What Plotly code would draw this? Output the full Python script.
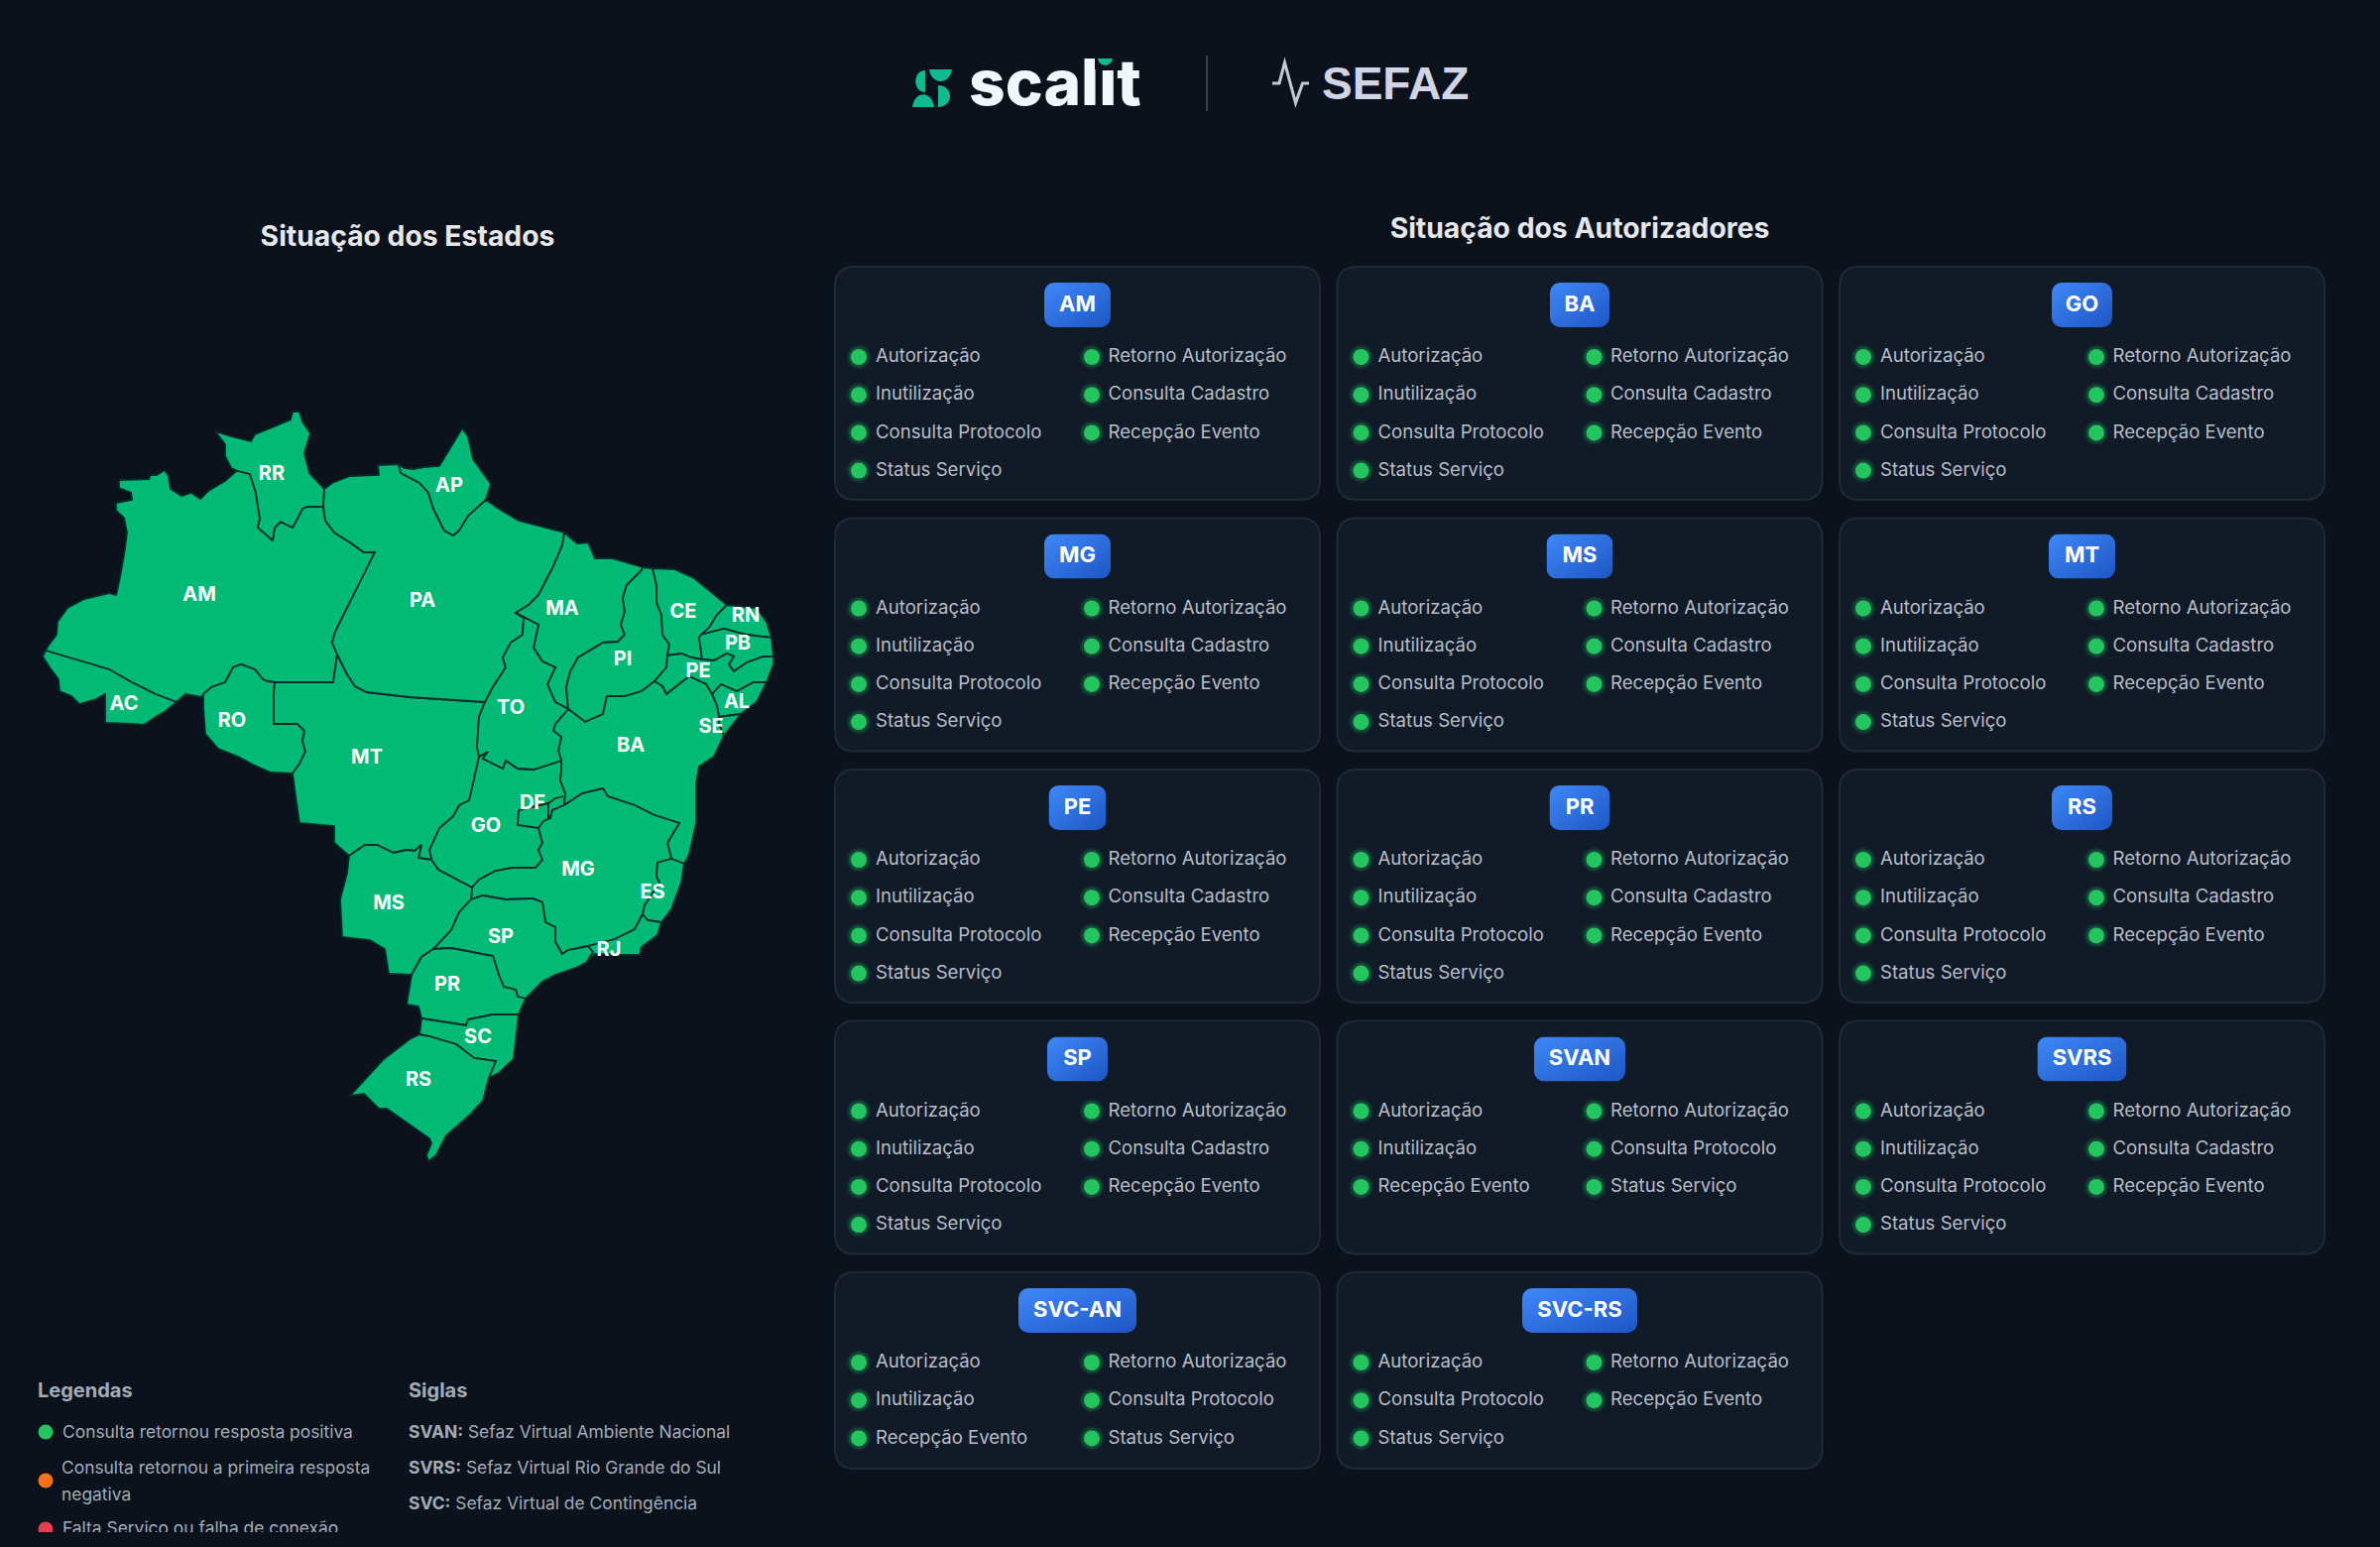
import plotly.graph_objects as go

BG = "#0b121c"
GREEN_MAP = "#00ba76"
BORDER = "#0a2b2a"
OK_DOT = "#22c55e"

# ---- status data ----
ALL_SERVICES = ["Autorização", "Retorno Autorização", "Inutilização", "Consulta Cadastro",
                "Consulta Protocolo", "Recepção Evento", "Status Serviço"]
SVC_SERVICES = ["Autorização", "Retorno Autorização", "Inutilização", "Consulta Protocolo",
                "Recepção Evento", "Status Serviço"]
SVCRS_SERVICES = ["Autorização", "Retorno Autorização", "Consulta Protocolo",
                  "Recepção Evento", "Status Serviço"]

authorizers = ["AM", "BA", "GO", "MG", "MS", "MT", "PE", "PR", "RS", "SP", "SVAN", "SVRS", "SVC-AN", "SVC-RS"]
authorizer_services = [ALL_SERVICES] * 10 + [SVC_SERVICES, ALL_SERVICES, SVC_SERVICES, SVCRS_SERVICES]
badge_widths = [67, 60, 61, 67, 67, 67, 58, 61, 61, 61, 92, 90, 119, 116]

legend_items = ["Consulta retornou resposta positiva", "Consulta retornou a primeira resposta", "negativa",
                "Falta Serviço ou falha de conexão"]
legend_colors = ["#22c55e", "#f97316", "#e63e50"]
siglas = ["<b>SVAN:</b> Sefaz Virtual Ambiente Nacional", "<b>SVRS:</b> Sefaz Virtual Rio Grande do Sul",
          "<b>SVC:</b> Sefaz Virtual de Contingência"]

# ---- map outlines, one list per stretch of border ----
ac_am = [(46, 656), (83, 667), (110, 675), (133, 688), (157, 700), (178, 708)]
ac_coast = [(178, 708), (167, 717), (157, 723), (145, 731), (133, 730), (106, 729), (106, 700), (97, 705), (80, 710),
            (72, 702), (60, 697), (59, 685), (50, 673), (43, 662), (46, 656)]
am_coast = [(46, 656), (48, 652), (57, 640), (58, 627), (68, 613), (85, 604), (110, 598), (117, 600), (120, 587),
            (125, 560), (128, 537), (125, 522), (117, 515), (117, 507), (133, 504), (132, 497), (120, 492), (120, 484),
            (150, 483), (152, 479), (158, 479), (166, 474), (170, 480), (172, 493), (183, 500), (193, 497), (202, 503),
            (210, 495), (227, 485), (237, 476), (240, 475)]
rr_coast = [(240, 475), (233, 472), (227, 460), (227, 448), (217, 435), (233, 440), (253, 445), (257, 438), (277, 430),
            (293, 423), (295, 415), (302, 415), (305, 425), (313, 437), (307, 457), (312, 477), (327, 493)]
am_rr = [(240, 475), (252, 478), (258, 497), (262, 523), (260, 532), (275, 545), (277, 532), (283, 526), (295, 532),
         (300, 523), (305, 513), (310, 511), (326, 511)]
rr_pa = [(326, 511), (327, 493)]
am_pa = [(326, 511), (328, 525), (337, 537), (353, 547), (367, 557), (378, 557), (367, 580), (350, 613), (338, 637),
         (335, 648), (340, 660)]
am_mt = [(340, 660), (336, 688), (277, 688)]
am_ro = [(277, 688), (270, 687), (265, 685), (257, 675), (243, 670), (235, 673), (227, 688), (213, 693), (205, 700)]
am_south = [(205, 700), (203, 703), (187, 700), (178, 708)]
ro_coast = [(205, 700), (205, 713), (207, 740), (220, 755), (240, 763), (257, 772), (273, 779), (295, 780)]
ro_mt = [(277, 688), (276, 700), (276, 730), (300, 730), (307, 737), (305, 747), (308, 758), (302, 770), (295, 780)]
mt_coast = [(295, 780), (298, 803), (302, 830), (337, 833), (337, 850), (352, 863)]
mt_ms = [(352, 863), (368, 852), (380, 852), (397, 860), (410, 857), (418, 858), (425, 852), (422, 865), (435, 867)]
mt_go = [(435, 867), (433, 857), (443, 835), (457, 823), (463, 812), (473, 807), (483, 763)]
mt_to = [(483, 763), (481, 753), (483, 723), (489, 708)]
mt_pa = [(340, 660), (350, 680), (358, 692), (370, 698), (413, 703), (489, 708)]
pa_to = [(489, 708), (497, 693), (510, 673), (507, 663), (515, 648), (527, 640), (528, 623), (520, 618)]
pa_ma = [(520, 618), (533, 610), (543, 600), (557, 573), (567, 550), (569, 537)]
pa_coast_w = [(327, 493), (335, 487), (353, 480), (382, 479), (381, 469), (402, 468)]
ap_coast = [(402, 468), (407, 472), (417, 473), (427, 471), (443, 470), (452, 455), (466, 432), (472, 440), (477, 463),
            (495, 488), (490, 504)]
ap_pa = [(402, 468), (404, 477), (423, 487), (432, 497), (437, 513), (448, 535), (457, 540), (463, 535), (472, 520),
         (490, 504)]
pa_coast_e = [(490, 504), (503, 513), (523, 525), (543, 530), (569, 537)]
ma_coast = [(569, 537), (582, 548), (593, 547), (600, 563), (617, 563), (633, 568), (648, 572)]
pi_coast = [(648, 572), (658, 573)]
ce_coast = [(658, 573), (680, 574), (700, 583), (733, 610)]
rn_coast = [(733, 610), (763, 613), (773, 627), (778, 643)]
ce_rn = [(733, 610), (723, 620), (715, 633), (707, 640)]
rn_pb = [(707, 640), (730, 634), (753, 640), (778, 643)]
pb_coast = [(778, 643), (780, 662)]
pb_pe = [(780, 662), (770, 662), (753, 668), (740, 677), (735, 670), (740, 662), (733, 659), (720, 666), (708, 665)]
ce_pb = [(707, 640), (705, 643), (708, 665)]
ce_pi = [(658, 573), (662, 590), (662, 607), (667, 620), (668, 640), (675, 650), (673, 661)]
ce_pe = [(673, 661), (687, 659), (697, 663), (708, 665)]
pi_ma = [(648, 572), (647, 575), (632, 590), (628, 603), (630, 617), (626, 630), (630, 640), (623, 647), (608, 648),
         (583, 663), (575, 677), (571, 693), (573, 715)]
ma_to = [(520, 618), (543, 630), (538, 653), (547, 667), (560, 673), (552, 690), (560, 708), (573, 715)]
pi_ba = [(573, 715), (590, 728), (608, 720), (612, 702), (630, 702), (647, 697), (660, 687)]
pi_pe = [(660, 687), (672, 673), (673, 661)]
pe_ba = [(660, 687), (668, 692), (672, 700), (687, 688), (695, 682), (712, 690), (718, 700)]
pe_al = [(718, 700), (727, 690), (743, 697), (760, 688), (773, 688)]
pe_coast = [(780, 662), (780, 670), (773, 688)]
al_coast = [(773, 688), (763, 708), (747, 720)]
al_se = [(718, 700), (723, 712), (725, 723), (747, 720)]
se_ba = [(725, 723), (725, 730), (730, 742)]
se_coast = [(747, 720), (737, 733), (730, 742)]
ba_coast = [(730, 742), (720, 763), (705, 773), (702, 790), (702, 830), (695, 862), (690, 871)]
ba_to = [(573, 715), (560, 730), (558, 737), (566, 743), (563, 757), (566, 767)]
to_go = [(483, 763), (492, 758), (487, 765), (507, 775), (510, 767), (522, 775), (538, 776), (566, 767)]
go_ba = [(566, 767), (566, 777), (565, 787), (570, 800), (569, 812)]
ba_mg = [(569, 812), (587, 800), (608, 795), (613, 803), (640, 812), (660, 822), (685, 830), (673, 850), (677, 866)]
ba_es = [(677, 866), (690, 871)]
es_mg = [(677, 866), (663, 870), (662, 883), (665, 890), (650, 913), (648, 922)]
es_rj = [(648, 922), (653, 928), (667, 930)]
es_coast = [(690, 871), (687, 890), (677, 917), (667, 930)]
rj_coast = [(667, 930), (663, 943), (647, 955), (645, 963), (623, 963), (600, 962), (592, 970)]
rj_mg = [(648, 922), (640, 937), (620, 947), (593, 954)]
rj_sp = [(593, 954), (598, 960), (592, 970)]
sp_mg = [(475, 907), (487, 903), (510, 907), (537, 906), (547, 910), (550, 930), (560, 935), (560, 950), (567, 962),
         (573, 958), (593, 954)]
go_mg = [(569, 812), (557, 817), (555, 825), (548, 828), (543, 835), (547, 850), (543, 857), (547, 867), (540, 875),
         (517, 875), (500, 878), (483, 887), (476, 895)]
go_ms = [(435, 867), (442, 877), (476, 895)]
mg_ms = [(476, 895), (475, 907)]
ms_sp = [(475, 907), (463, 920), (455, 938), (437, 957)]
ms_pr = [(437, 957), (425, 965), (415, 983)]
ms_coast = [(352, 863), (350, 880), (343, 907), (345, 945), (373, 948), (388, 957), (392, 982), (415, 983)]
pr_coast_w = [(415, 983), (410, 1013), (422, 1015), (425, 1027)]
pr_sp = [(437, 957), (455, 956), (497, 964), (503, 983), (508, 995), (520, 998), (522, 1005), (530, 1007)]
sp_coast = [(592, 970), (583, 975), (560, 983), (547, 990), (530, 1007)]
pr_coast_e = [(530, 1007), (523, 1023)]
pr_sc = [(425, 1027), (470, 1034), (472, 1028), (497, 1023), (523, 1023)]
sc_coast = [(523, 1023), (520, 1050), (518, 1068), (503, 1082), (493, 1087)]
sc_west = [(425, 1027), (423, 1043)]
sc_rs = [(423, 1043), (433, 1045), (460, 1053), (478, 1067), (500, 1070), (493, 1087)]
rs_coast = [(493, 1087), (487, 1110), (473, 1125), (450, 1145), (440, 1165), (432, 1171), (430, 1165), (435, 1153),
            (433, 1148), (390, 1118), (382, 1118), (367, 1103), (353, 1105), (387, 1068), (413, 1048), (423, 1043)]
df_outline = [(523, 817), (553, 810), (553, 825), (548, 832), (543, 835), (522, 832), (523, 817)]
df_stub = [(553, 810), (560, 805), (568, 803)]

# state -> stretches in walking order, ~ means walked backwards
state_paths = {
    "AC": [ac_am, ac_coast[:-1]],
    "AM": [am_coast, am_rr, am_pa, am_mt, am_ro, am_south, "~ac_am"],
    "RR": [rr_coast, "~rr_pa", "~am_rr"],
    "RO": [ro_coast, "~ro_mt", am_ro],
    "MT": [mt_pa, "~mt_to", "~mt_go", "~mt_ms", "~mt_coast", "~ro_mt", "~am_mt"],
    "AP": [ap_coast, "~ap_pa"],
    "PA": [pa_coast_w, ap_pa, pa_coast_e, "~pa_ma", "~pa_to", "~mt_pa", "~am_pa", rr_pa],
    "MA": [ma_coast, pi_ma, "~ma_to", pa_ma],
    "PI": [pi_coast, ce_pi, "~pi_pe", "~pi_ba", "~pi_ma"],
    "CE": [ce_coast, ce_rn, ce_pb, "~ce_pe", "~ce_pi"],
    "RN": [rn_coast, "~rn_pb", "~ce_rn"],
    "PB": [rn_pb, pb_coast, pb_pe, "~ce_pb"],
    "PE": [ce_pe, "~pb_pe", pe_coast, "~pe_al", "~pe_ba", pi_pe],
    "AL": [pe_al, al_coast, "~al_se"],
    "SE": [al_se, se_coast, "~se_ba"],
    "BA": [pi_ba, pe_ba, al_se[:3], se_ba, ba_coast, "~ba_es", "~ba_mg", "~go_ba", "~ba_to"],
    "TO": [pa_to, ma_to, ba_to, "~to_go", mt_to],
    "GO": [to_go, go_ba, go_mg, "~go_ms", mt_go],
    "DF": [df_outline],
    "MG": [ba_mg, es_mg, rj_mg, "~sp_mg", "~mg_ms", "~go_mg"],
    "ES": [ba_es, es_coast, "~es_rj", "~es_mg"],
    "RJ": [es_rj, rj_coast, "~rj_sp", "~rj_mg"],
    "SP": [sp_mg, rj_sp, sp_coast, "~pr_sp", "~ms_sp"],
    "MS": [mt_ms, go_ms, mg_ms, ms_sp, ms_pr, "~ms_coast"],
    "PR": [pr_sp, pr_coast_e, "~pr_sc", "~pr_coast_w", "~ms_pr"],
    "SC": [pr_sc, sc_coast, "~sc_rs", "~sc_west"],
    "RS": [sc_rs, rs_coast],
}

state_names = ["AM", "RR", "AC", "RO", "MT", "PA", "MA", "PI", "CE", "RN", "PB", "PE", "AL", "SE", "BA", "TO", "DF",
               "GO", "MG", "ES", "AP", "MS", "SP", "PR", "RJ", "SC", "RS"]
label_x = [201, 274, 125, 234, 370, 426, 567, 628, 689, 752, 744, 704, 743, 717, 636, 515, 537,
           490, 583, 658, 453, 392, 505, 451, 614, 482, 422]
label_y = [601, 479, 711, 728, 765, 607, 615, 666, 618, 622, 650, 678, 709, 734, 753, 715, 811,
           834, 878, 901, 491, 912, 946, 994, 959, 1047, 1090]


def walk(parts):
    pts = []
    for p in parts:
        seg = globals()[p[1:]][::-1] if isinstance(p, str) else p
        pts.extend(seg)
    return pts


def rrect(x0, y0, x1, y1, r):
    return (f"M{x0 + r},{y0} L{x1 - r},{y0} Q{x1},{y0} {x1},{y0 + r} L{x1},{y1 - r} Q{x1},{y1} {x1 - r},{y1} "
            f"L{x0 + r},{y1} Q{x0},{y1} {x0},{y1 - r} L{x0},{y0 + r} Q{x0},{y0} {x0 + r},{y0} Z")


fig = go.Figure()
shapes = []
images = []

# map
for name in ["GO", "DF"] + [s for s in state_names if s not in ("GO", "DF")]:
    pts = walk(state_paths[name])
    fig.add_trace(go.Scatter(x=[p[0] for p in pts] + [pts[0][0]], y=[p[1] for p in pts] + [pts[0][1]],
                             mode="lines", fill="toself", fillcolor=GREEN_MAP,
                             line=dict(color=BORDER, width=1.8), hoverinfo="skip"))
fig.add_trace(go.Scatter(x=[p[0] for p in df_stub], y=[p[1] for p in df_stub], mode="lines",
                         line=dict(color=BORDER, width=1.8), hoverinfo="skip"))
fig.add_trace(go.Scatter(x=label_x, y=label_y, mode="text", text=state_names, textposition="middle center",
                         textfont=dict(family="Inter", size=20, color="white", weight=700), hoverinfo="skip"))

# cards
card_w, card_pitch_x, card_pitch_y = 489, 506.5, 253.5
dot_x, dot_y, line_h = [], [], 38.2
txt_x, txt_y, txt = [], [], []
badge_x, badge_y = [], []
for i, (name, services) in enumerate(zip(authorizers, authorizer_services)):
    left = 842 + (i % 3) * card_pitch_x
    top = 269 + (i // 3) * card_pitch_y
    h = 198 if i >= 12 else 235
    shapes.append(dict(type="path", path=rrect(left, top, left + card_w, top + h, 20), fillcolor="#111a27",
                       line=dict(color="#1f2937", width=2), layer="below"))
    bw = badge_widths[i]
    cx = left + card_w / 2
    badge_x.append(cx)
    badge_y.append(top + 39)
    svg = (f"<svg xmlns='http://www.w3.org/2000/svg' width='{bw}' height='45'><defs><linearGradient id='g' x1='0' "
           f"y1='0' x2='1' y2='1'><stop offset='0' stop-color='%233f88f8'/><stop offset='1' stop-color='%231d56c4'/>"
           f"</linearGradient></defs><rect width='{bw}' height='45' rx='10' fill='url(%23g)'/></svg>")
    images.append(dict(source="data:image/svg+xml;utf8," + svg, xref="x", yref="y", x=cx - bw / 2, y=top + 16,
                       sizex=bw, sizey=45, xanchor="left", yanchor="top", sizing="stretch", layer="below"))
    for j, service in enumerate(services):
        col, row = j % 2, j // 2
        dot_x.append(left + (24 if col == 0 else 259))
        dot_y.append(top + 91 + row * line_h)
        txt_x.append(left + (41 if col == 0 else 275.5))
        txt_y.append(top + 91.5 + row * line_h)
        txt.append(service)

for size, op in [(25, 0.1), (21, 0.2), (16, 1)]:
    fig.add_trace(go.Scatter(x=dot_x, y=dot_y, mode="markers", hoverinfo="skip",
                             marker=dict(size=size, color=OK_DOT, opacity=op, line=dict(width=0))))
fig.add_trace(go.Scatter(x=txt_x, y=txt_y, mode="text", text=txt, textposition="middle right",
                         textfont=dict(family="Inter", size=18.6, color="#b7bec8"), hoverinfo="skip"))
fig.add_trace(go.Scatter(x=badge_x, y=badge_y, mode="text", text=authorizers, textposition="middle center",
                         textfont=dict(family="Inter", size=22, color="white", weight=700), hoverinfo="skip"))

# titles
fig.add_trace(go.Scatter(x=[411, 1593], y=[241, 233], mode="text",
                         text=["Situação dos Estados", "Situação dos Autorizadores"], textposition="middle center",
                         textfont=dict(family="Inter", size=28.3, color="#e5e7eb", weight=700), hoverinfo="skip"))

# logo
fig.add_trace(go.Scatter(x=[977], y=[90], mode="text", text=["scalit"], textposition="middle right",
                         textfont=dict(family="Inter", size=64, color="#f0f8fb", weight=800), hoverinfo="skip"))
fig.add_trace(go.Scatter(x=[1333], y=[88], mode="text", text=["SEFAZ"], textposition="middle right",
                         textfont=dict(family="Liberation Sans", size=46, color="#d0d4e4", weight=700),
                         hoverinfo="skip"))
logo_green = "#10b98f"
# the i of the wordmark has a green half disc instead of a dot
shapes.append(dict(type="rect", x0=1104, x1=1124, y0=50, y1=70, fillcolor=BG, line=dict(width=0), layer="above"))
for p in ["M933,71 C920,71 920,93 933,93 Z", "M937,70 L960,70 C958,86 939,86 937,70 Z",
          "M946,86 C962,86 962,108 946,108 Z", "M920,108 C922,91 940,91 942,108 Z",
          "M1107,59 L1122,59 C1121,68 1108,68 1107,59 Z"]:
    shapes.append(dict(type="path", path=p, fillcolor=logo_green, line=dict(width=0), layer="above"))
shapes.append(dict(type="line", x0=1217, x1=1217, y0=56, y1=112, line=dict(color="#3a4049", width=2)))
shapes.append(dict(type="path", path="M1283,84 L1290,84 L1295.5,63 L1306.5,104 L1313.5,84 L1320,84",
                   line=dict(color="#c5c9d4", width=3), layer="above"))

# legend
fig.add_trace(go.Scatter(x=[38, 412], y=[1404, 1404], mode="text", text=["Legendas", "Siglas"],
                         textposition="middle right",
                         textfont=dict(family="Inter", size=20, color="#a4acb7", weight=700), hoverinfo="skip"))
fig.add_trace(go.Scatter(x=[46, 46, 46], y=[1444, 1493, 1542], mode="markers", hoverinfo="skip",
                         marker=dict(size=15, color=legend_colors, line=dict(width=0))))
fig.add_trace(go.Scatter(x=[63, 62, 62, 63], y=[1446, 1482, 1509, 1543], mode="text", text=legend_items,
                         textposition="middle right", textfont=dict(family="Inter", size=17.4, color="#a4acb7"),
                         hoverinfo="skip"))
fig.add_trace(go.Scatter(x=[412, 412, 412], y=[1446, 1482, 1518], mode="text", text=siglas,
                         textposition="middle right", textfont=dict(family="Inter", size=17.4, color="#a4acb7"),
                         hoverinfo="skip"))
# the legend box cuts off its last row
shapes.append(dict(type="rect", x0=0, x1=800, y0=1545, y1=1560, fillcolor=BG, line=dict(width=0), layer="above"))

fig.update_layout(width=2400, height=1560, margin=dict(l=0, r=0, t=0, b=0), showlegend=False,
                  paper_bgcolor=BG, plot_bgcolor=BG, shapes=shapes, images=images, hovermode=False,
                  xaxis=dict(range=[0, 2400], visible=False, fixedrange=True),
                  yaxis=dict(range=[1560, 0], visible=False, fixedrange=True))
fig.write_html("out.html", config=dict(displayModeBar=False),
               post_script="document.body.style.margin='0';document.body.style.background='#0b121c';")
